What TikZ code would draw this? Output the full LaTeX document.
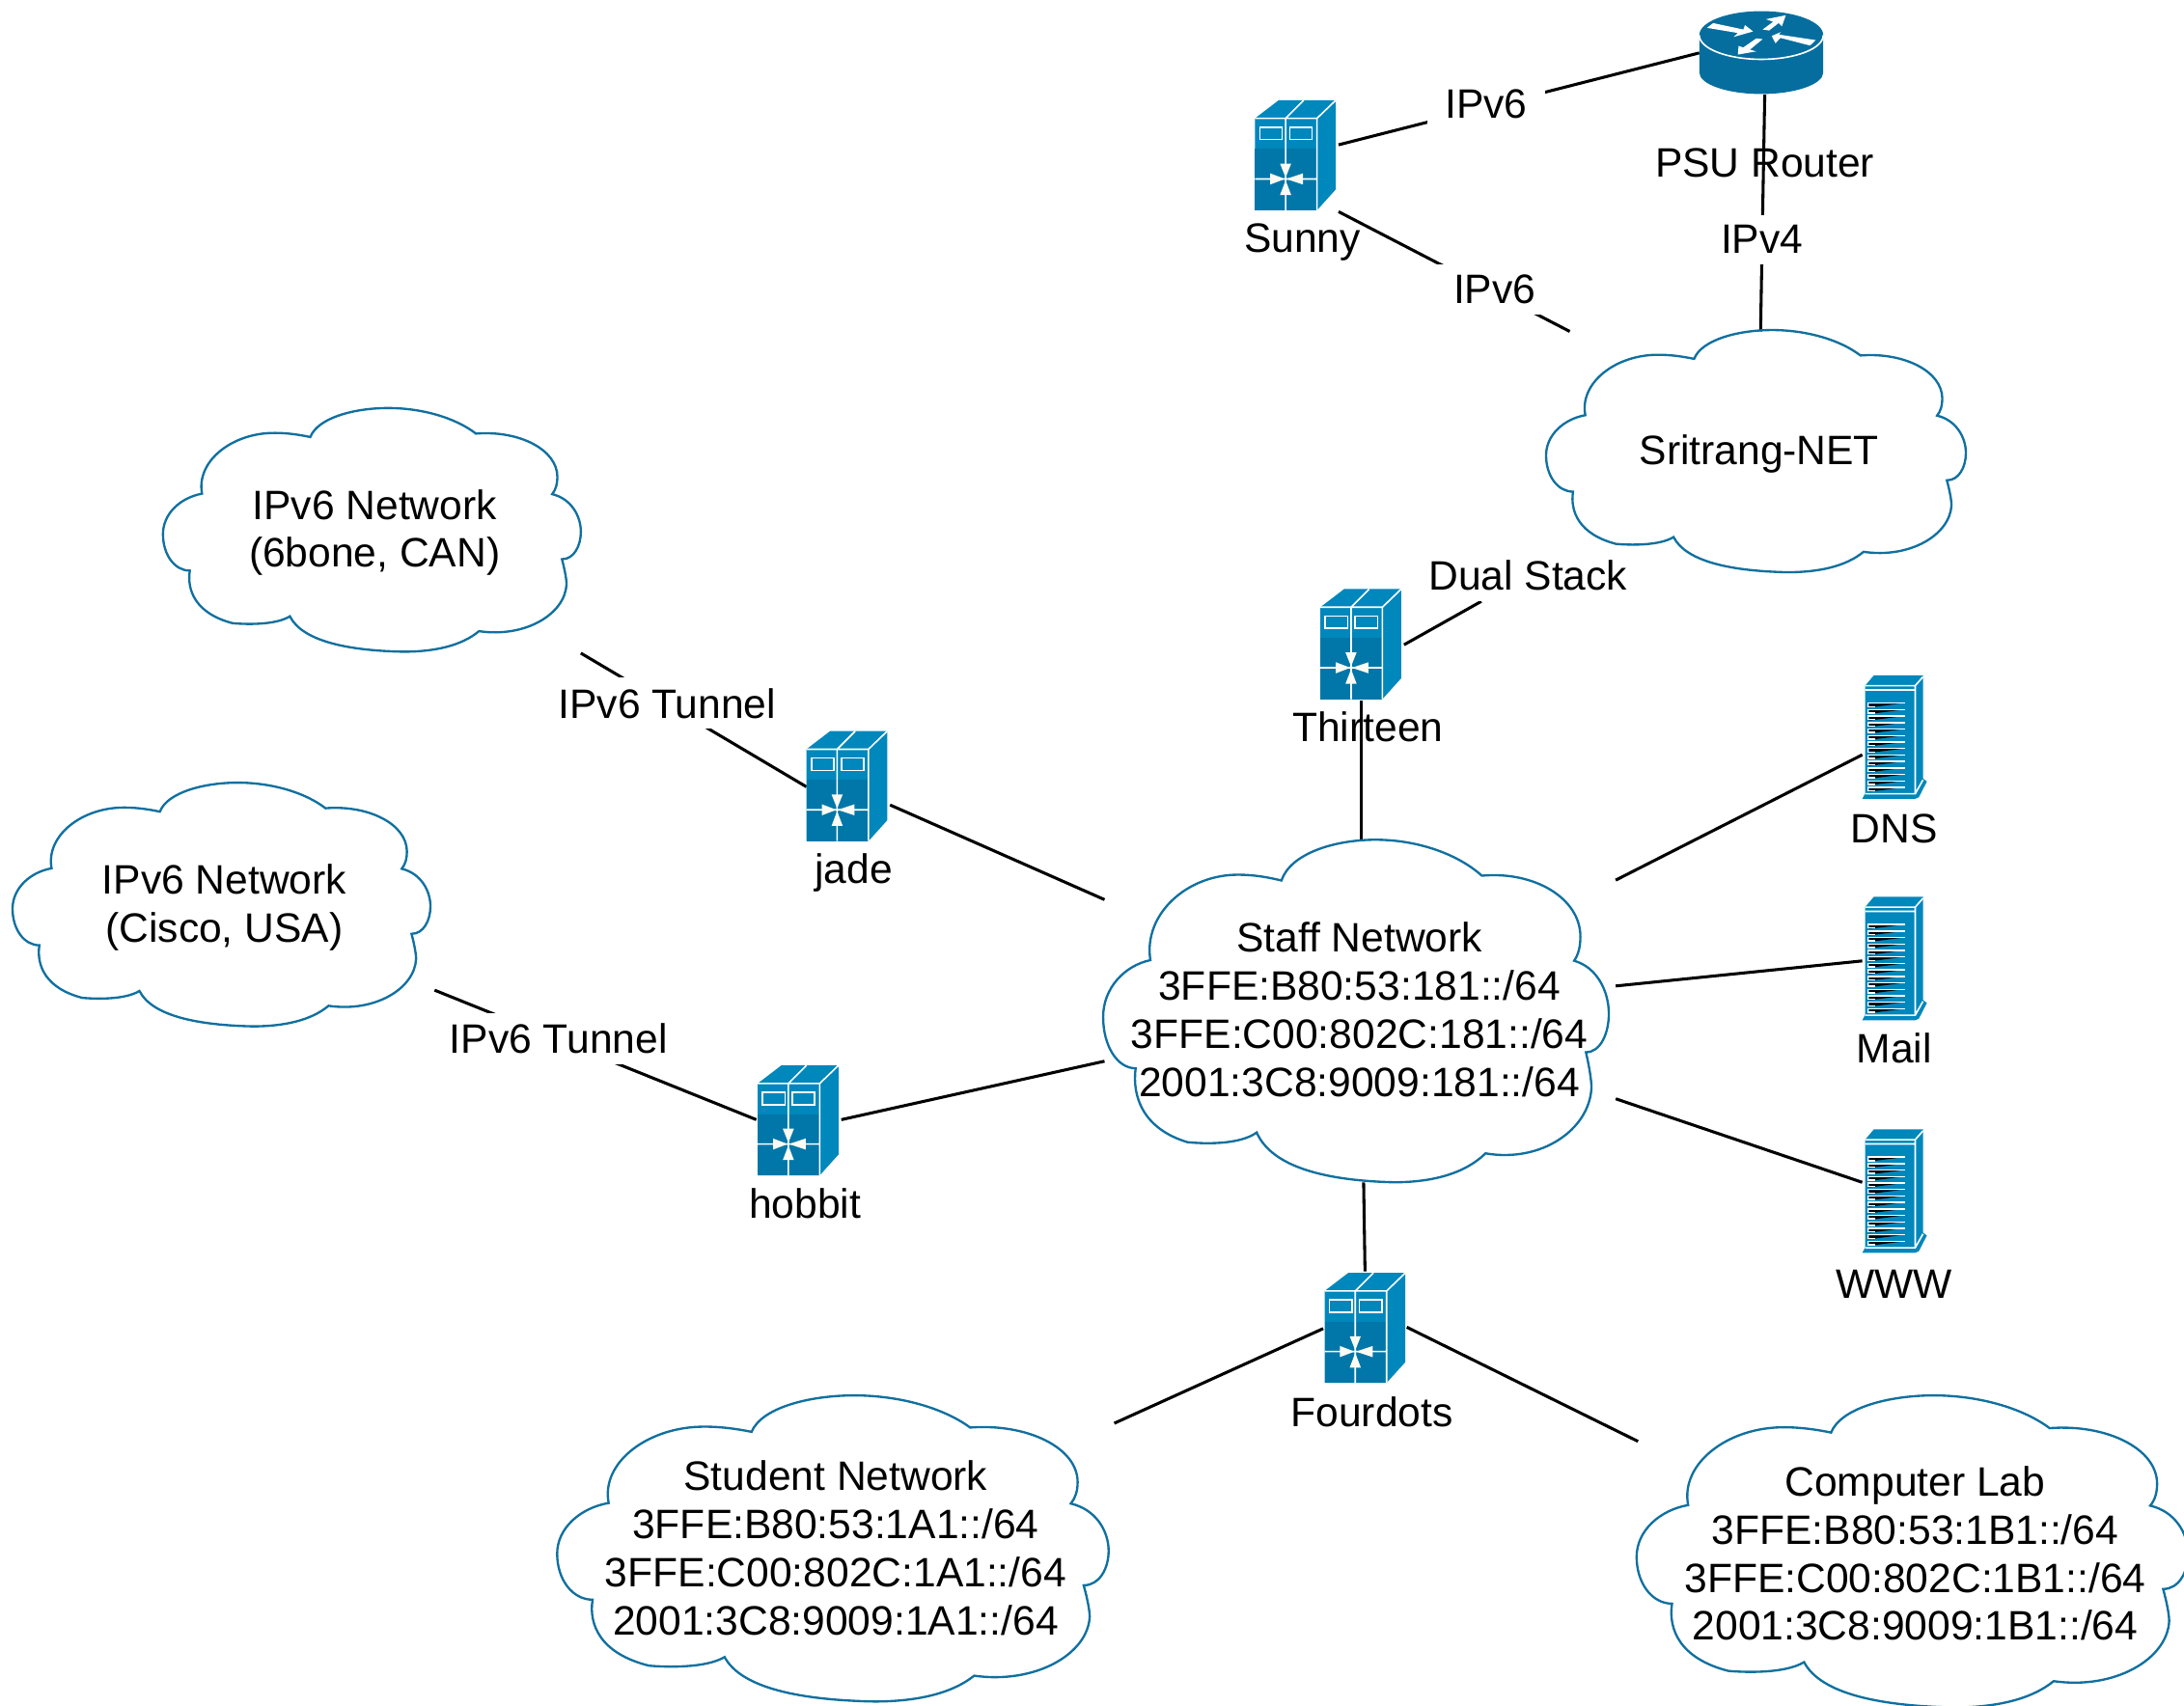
\documentclass[tikz,border=0pt]{standalone}
\usepackage{fontspec}
\setmainfont{Liberation Sans}
\usepackage{xcolor}
\usetikzlibrary{backgrounds}
\definecolor{CiscoBlue}{HTML}{0087BB}
\definecolor{CiscoBand}{HTML}{0077A8}
\definecolor{CiscoDark}{HTML}{056E9E}
\definecolor{CloudLine}{HTML}{10709F}
\definecolor{ArrowWhite}{HTML}{FBFBF3}
\tikzset{
  lbl/.style={font=\fontsize{11.8}{13.8}\selectfont, inner sep=1pt, align=center, xshift=0.4pt},
  tag/.style={lbl, fill=white, inner xsep=5pt, inner ysep=3pt},
  link/.style={draw=black, line width=0.85pt},
  cloudnet/.pic={
    \draw[CloudLine, line width=0.65pt] (48.3,12.7)
      .. controls (50.8,4.2) and (62.8,0) .. (73.8,0)
      .. controls (84.8,0) and (95.8,4.2) .. (102.6,11.2)
      .. controls (116.8,9.7) and (129.3,18.2) .. (129.3,30.2)
      .. controls (129.3,33.2) and (128.8,35.7) .. (127.6,37.7)
      .. controls (133.8,39.7) and (137,47.2) .. (137,54.2)
      .. controls (137,60.2) and (134.8,66.2) .. (130.8,66.2)
      .. controls (131.8,71.2) and (132.3,75.2) .. (132.3,77.2)
      .. controls (131.8,90.2) and (118.8,100.7) .. (103.6,97.7)
      .. controls (97.8,104.2) and (88.8,106.7) .. (78.8,106.7)
      .. controls (60.8,106.2) and (45.8,102.2) .. (41.6,91.2)
      .. controls (36.8,95.2) and (26.8,94.7) .. (22.8,94.2)
      .. controls (10.8,90) and (7.8,80) .. (8.8,71.2)
      .. controls (3.8,71.2) and (0,64.2) .. (0,55.2)
      .. controls (0,46.2) and (5.8,39.2) .. (12.8,37.5)
      .. controls (10.8,23.2) and (22.8,10.7) .. (36.8,10.9)
      .. controls (40.8,10.9) and (44.8,11.7) .. (48.3,12.7) -- cycle;
  },
  switchbox/.pic={
    \fill[CiscoBlue] (0,13) -- (17,0) -- (58,0) -- (58,64) -- (44.5,79) -- (0,79) -- cycle;
    \fill[CiscoBand] (0,35) rectangle (44.5,79);
    \draw[white, line width=0.45pt] (0,13) -- (44.5,13) -- (58,0) (44.5,13) -- (44.5,79)
      (22,13) -- (22,79) (22,13) -- (35,0) (0,56.5) -- (44.5,56.5);
    \draw[white, line width=0.45pt] (3.5,19.3) rectangle (19.6,28.2) (25,19.3) rectangle (41,28.2);
    \fill[ArrowWhite] (22,55.5) -- (18,45.5) -- (26,45.5) -- cycle (22,57.5) -- (18,68) -- (26,68) -- cycle
      (21.5,56.5) -- (11,52.5) -- (11,60.5) -- cycle (22.5,56.5) -- (34.5,52.5) -- (34.5,60.5) -- cycle;
  },
  rackbox/.pic={
    \fill[CiscoBlue] (0,88.6) -- (2,85) -- (2,7.4) -- (8.3,0) -- (43.6,0) -- (43.6,74) -- (46.4,76.2) -- (40.6,87.5) -- (38,88.6) -- cycle;
    \draw[white, line width=0.45pt] (2,7.4) -- (38,7.4) -- (43.6,1) (38,7.4) -- (38,85) (2,10.4) -- (38,10.4) (2,85) -- (38,85) -- (43.6,75);
    \foreach \row in {0,...,13} {
      \fill[black] (5,{20.3+\row*4.65}) -- (27,{20.3+\row*4.65}) -- (5,{23+\row*4.65}) -- cycle;
      \draw[white, line width=0.4pt] (3.9,{19.9+\row*4.65}) -- (30.7,{19.9+\row*4.65}) (3.9,{19.9+\row*4.65}) -- (3.9,{22.4+\row*4.65}) -- (9,{22.4+\row*4.65});
    }
  },
  routerbox/.pic={
    \fill[CiscoDark] (0,17.3) -- (0,44) arc[start angle=180, end angle=0, x radius=44.5, y radius=15.5] -- (89,17.3) -- cycle;
    \fill[CiscoDark] (44.5,17.3) ellipse[x radius=44.5, y radius=17.3];
    \draw[white, line width=0.45pt] (0,17.3) arc[start angle=180, end angle=0, x radius=44.5, y radius=17.3];
    \fill[white] (5.5,12) -- (10,8.6) -- (31.6,13.2) -- (32.8,10) -- (38.6,14.6) -- (24.7,18.5) -- (27.7,15.7) -- cycle
      (45.5,13.2) -- (53.1,7.6) -- (47.8,5.8) -- (62.1,3) -- (59.3,10.9) -- (57,8.5) -- (50.1,13.9) -- cycle
      (52,17.8) -- (58.7,15) -- (57,16.8) -- (83.6,20.8) -- (79.5,24.7) -- (58.2,19.2) -- (54.7,23.1) -- cycle
      (27.7,31.2) -- (28.2,25) -- (31.6,26.1) -- (40.9,19.6) -- (45.5,20.1) -- (36.3,27.7) -- (40.9,28.9) -- cycle;
  }
}
\begin{document}
\begin{tikzpicture}[x=0.4pt, y=-0.4pt]
  \useasboundingbox (0,0) rectangle (1568,1225);
  % clouds
  \pic[xscale=2.19, yscale=1.64] at (117,293) {cloudnet};
  \pic[xscale=2.19, yscale=1.64] at (9,562) {cloudnet};
  \pic[xscale=2.2, yscale=1.63] at (1110,237) {cloudnet};
  \pic[xscale=2.65, yscale=2.305] at (792,603) {cloudnet};
  \pic[xscale=2.89, yscale=2.06] at (400,1002) {cloudnet};
  \pic[xscale=2.89, yscale=2.1] at (1175,1002) {cloudnet};
  \node[lbl] (bone) at (268,382.5) {IPv6 Network\\(6bone, CAN)};
  \node[lbl] (cisco) at (160,651.5) {IPv6 Network\\(Cisco, USA)};
  \node[lbl] (sritrang) at (1262,326) {Sritrang-NET};
  \node[lbl] (staff) at (975,725) {Staff Network\\3FFE:B80:53:181::/64\\3FFE:C00:802C:181::/64\\2001:3C8:9009:181::/64};
  \node[lbl] (student) at (599,1111.5) {Student Network\\3FFE:B80:53:1A1::/64\\3FFE:C00:802C:1A1::/64\\2001:3C8:9009:1A1::/64};
  \node[lbl] (lab) at (1374,1115.5) {Computer Lab\\3FFE:B80:53:1B1::/64\\3FFE:C00:802C:1B1::/64\\2001:3C8:9009:1B1::/64};
  % devices
  \pic at (901,72) {switchbox};
  \pic at (948,423) {switchbox};
  \pic at (579,525) {switchbox};
  \pic at (544,765) {switchbox};
  \pic at (951,914) {switchbox};
  \pic at (1220,8) {routerbox};
  \pic at (1337,485) {rackbox};
  \pic at (1337,644) {rackbox};
  \pic at (1337,811) {rackbox};
  \node[lbl] (sunny) at (934,174) {Sunny};
  \node[lbl] (psu) at (1266,117) {PSU Router};
  \node[lbl] (thirteen) at (981,522) {Thirteen};
  \node[lbl] (jade) at (612,627) {jade};
  \node[lbl] (hobbit) at (577,864) {hobbit};
  \node[lbl] (fourdots) at (984,1014) {Fourdots};
  \node[lbl] (dns) at (1359,595) {DNS};
  \node[lbl] (mail) at (1359,753) {Mail};
  \node[lbl] (www) at (1359,922) {WWW};
  % line labels
  \node[tag] (ipva) at (1066,75) {IPv6};
  \node[tag] (ipvb) at (1072,208) {IPv6};
  \node[tag] (ipvc) at (1264,172) {IPv4};
  \node[tag] (dual) at (1096,413) {Dual Stack};
  \node[tag] (tunnela) at (478,505) {IPv6 Tunnel};
  \node[tag] (tunnelb) at (400,746) {IPv6 Tunnel};
  % line ends
  \coordinate (sunnyup) at (961,104);
  \coordinate (sunnydown) at (961,152);
  \coordinate (routerleft) at (1220,38);
  \coordinate (routerdown) at (1267,68);
  \coordinate (sritrangtop) at (1264,238);
  \coordinate (sritrangleft) at (1127,238);
  \coordinate (thirteenright) at (1008,463);
  \coordinate (thirteendown) at (977,503);
  \coordinate (staffup) at (977,603);
  \coordinate (boneend) at (417,469);
  \coordinate (jadeleft) at (579,565);
  \coordinate (jaderight) at (639,578);
  \coordinate (staffjade) at (793,646);
  \coordinate (ciscoend) at (312,711);
  \coordinate (hobbitleft) at (543,804);
  \coordinate (hobbitright) at (604,804);
  \coordinate (staffhobbit) at (793,762);
  \coordinate (staffdns) at (1160,632);
  \coordinate (dnsleft) at (1337,542);
  \coordinate (staffmail) at (1160,708);
  \coordinate (mailleft) at (1337,690);
  \coordinate (staffwww) at (1160,789);
  \coordinate (wwwleft) at (1337,849);
  \coordinate (staffdown) at (979,849);
  \coordinate (fourup) at (980,913);
  \coordinate (fourleft) at (950,954);
  \coordinate (fourright) at (1010,953);
  \coordinate (studentend) at (800,1022);
  \coordinate (labend) at (1176,1035);
  \begin{scope}[on background layer]
    \draw[link] (sunnyup) -- (routerleft);
    \draw[link] (sunnydown) -- (sritrangleft);
    \draw[link] (routerdown) -- (sritrangtop);
    \draw[link] (thirteenright) -- (dual);
    \draw[link] (thirteendown) -- (staffup);
    \draw[link] (boneend) -- (jadeleft);
    \draw[link] (jaderight) -- (staffjade);
    \draw[link] (ciscoend) -- (hobbitleft);
    \draw[link] (hobbitright) -- (staffhobbit);
    \draw[link] (staffdns) -- (dnsleft);
    \draw[link] (staffmail) -- (mailleft);
    \draw[link] (staffwww) -- (wwwleft);
    \draw[link] (staffdown) -- (fourup);
    \draw[link] (fourleft) -- (studentend);
    \draw[link] (fourright) -- (labend);
  \end{scope}
\end{tikzpicture}
\end{document}
